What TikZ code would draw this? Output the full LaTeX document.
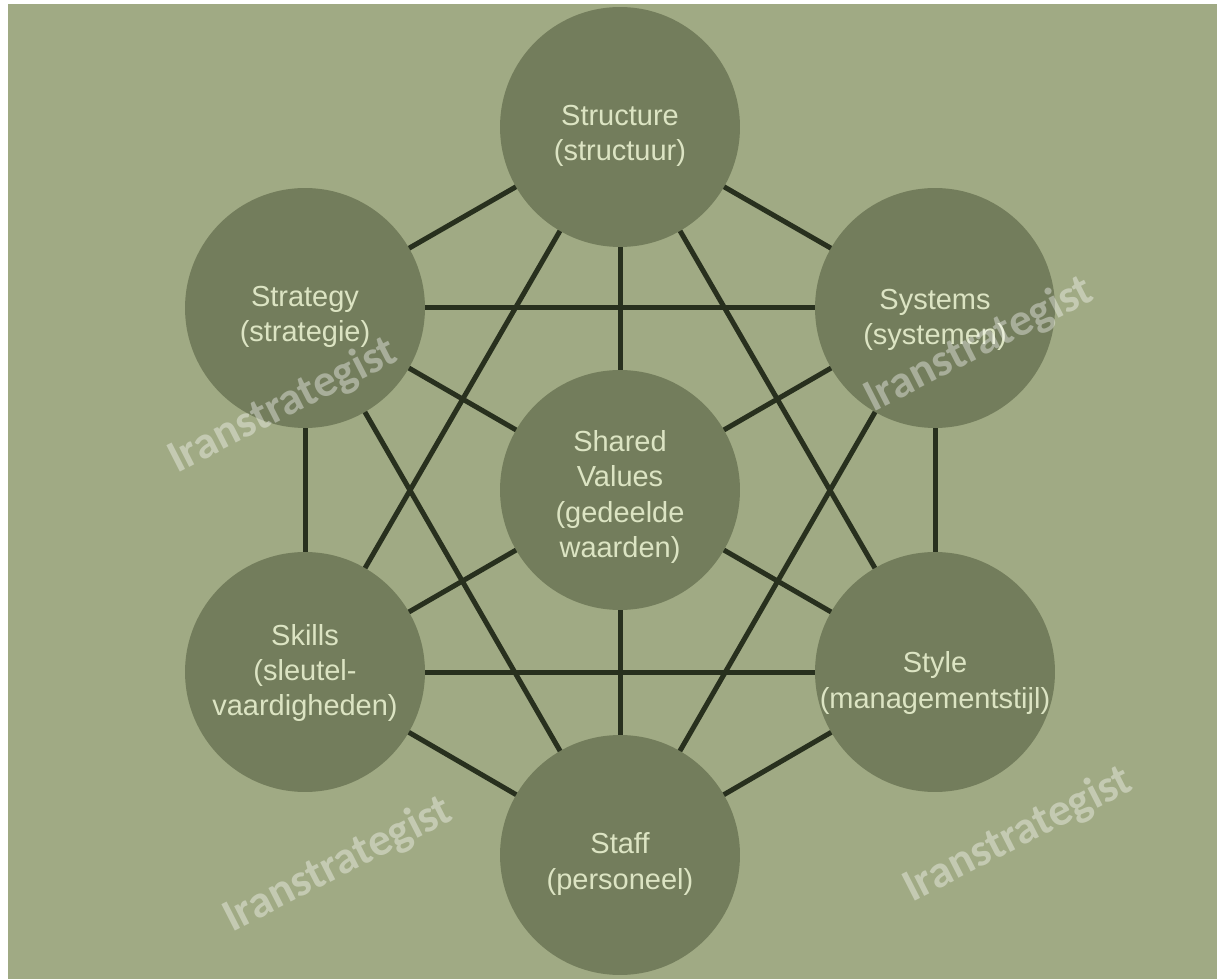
\documentclass[tikz,border=0pt]{standalone}
\usepackage{fontspec}
\setmainfont{Liberation Sans}
\newfontfamily\wmfont{Carlito}
\pgfdeclarelayer{bottom}
\pgfdeclarelayer{links}
\pgfsetlayers{bottom,links,main}
\definecolor{bgcol}{HTML}{A0AA84}
\definecolor{discfill}{HTML}{737D5C}
\definecolor{linecol}{HTML}{28301E}
\definecolor{lblcol}{HTML}{DCE4C3}
\begin{document}
\begin{tikzpicture}[x=0.02cm,y=-0.02cm,
  disc/.style={circle, fill=discfill, minimum size=4.8cm, inner sep=0pt},
  lbl/.style={text=lblcol, align=center, inner sep=0pt, font=\fontsize{16.5}{20}\selectfont},
  link/.style={draw=linecol, line width=0.1cm},
  wm/.style={text=white, text opacity=0.38, inner sep=0pt, rotate=27, font=\wmfont\bfseries\fontsize{26}{30}\selectfont}]
\begin{pgfonlayer}{bottom}
\fill[white] (0,0) rectangle (1217,979);
\fill[bgcol] (8,4) rectangle (1217,979);
\end{pgfonlayer}
\useasboundingbox (0,0) rectangle (1217,979);
% discs
\node[disc] (structure) at (620,127) {};
\node[disc] (systems)   at (935,308) {};
\node[disc] (style)     at (935,672) {};
\node[disc] (staff)     at (620,855) {};
\node[disc] (skills)    at (305,672) {};
\node[disc] (strategy)  at (305,308) {};
\node[disc] (shared)    at (620,490) {};
% connectors
\begin{pgfonlayer}{links}
\foreach \a/\b in {structure/systems, systems/style, style/staff, staff/skills, skills/strategy, strategy/structure,
                   structure/style, systems/staff, style/skills, staff/strategy, skills/structure, strategy/systems,
                   shared/structure, shared/systems, shared/style, shared/staff, shared/skills, shared/strategy}
  \draw[link] (\a.center) -- (\b.center);
\end{pgfonlayer}
% labels
\node[lbl] (structure-t) at (620,136) {Structure\\(structuur)};
\node[lbl] (systems-t)   at (935,320) {Systems\\(systemen)};
\node[lbl] (strategy-t)  at (305,317) {Strategy\\(strategie)};
\node[lbl] (style-t)     at (935,683) {Style\\(managementstijl)};
\node[lbl] (staff-t)     at (620,864) {Staff\\(personeel)};
\node[lbl] (skills-t)    at (305,673) {Skills\\(sleutel-\\vaardigheden)};
\node[lbl] (shared-t)    at (620,497) {Shared\\Values\\(gedeelde\\waarden)};
% watermarks
\node[wm] (wm1) at (283,406) {Iranstrategist};
\node[wm] (wm2) at (979,345) {Iranstrategist};
\node[wm] (wm3) at (338,865) {Iranstrategist};
\node[wm] (wm4) at (1018,835) {Iranstrategist};
\end{tikzpicture}
\end{document}
